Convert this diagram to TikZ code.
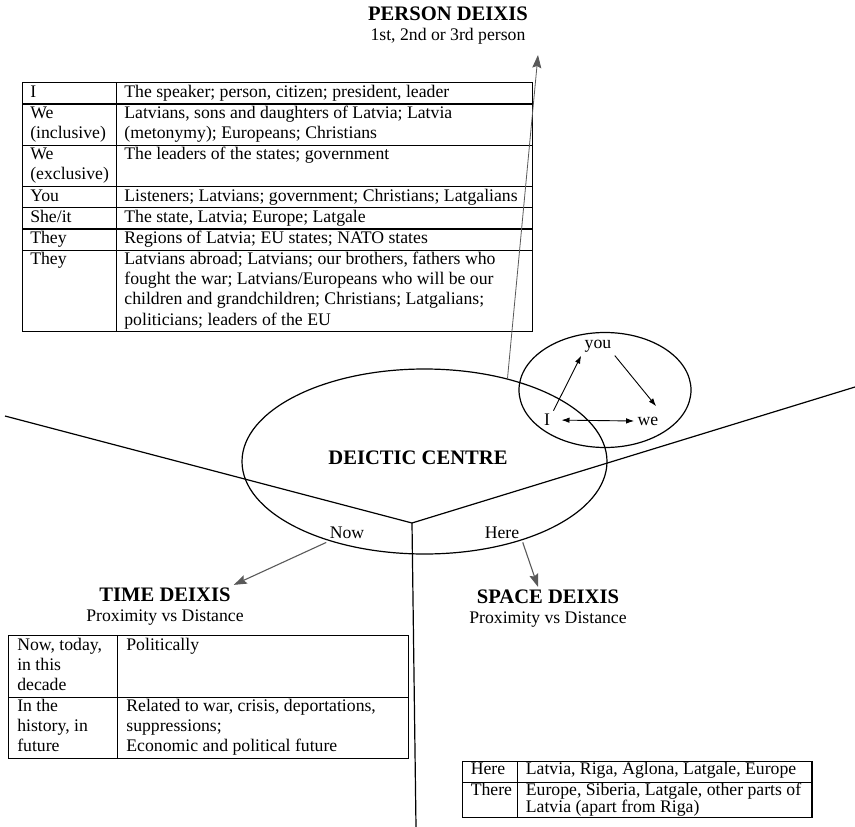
\documentclass[tikz,border=0pt]{standalone}
\usepackage{fontspec}
\setmainfont{Liberation Serif}
\usepackage{array}
\usetikzlibrary{arrows.meta, positioning, shapes.geometric}
\newcolumntype{L}[1]{>{\raggedright\arraybackslash}p{#1}}
\setlength{\arrayrulewidth}{1.1pt}

\begin{document}
\begin{tikzpicture}[x=1pt, y=-1pt, on grid, node distance=22.5pt,
      font=\fontsize{17.7}{20.1}\selectfont,
      title/.style={font=\fontsize{20.6}{24}\selectfont\bfseries, inner sep=3pt},
      circ/.style={draw, ellipse, line width=1.2pt, inner sep=0pt},
      ray/.style={line width=1.2pt},
      pointer/.style={draw=black!65, line width=1.1pt, -{Stealth[length=13pt, width=9pt, inset=2pt]}},
      pers/.style={line width=0.9pt, -{Latex[length=8pt, width=5.5pt]}},
      grid table/.style={inner sep=0pt, anchor=north west}]
  \useasboundingbox (0,0) rectangle (855,827);

  % person deixis
  \node[title] (persontitle) at (448,14) {PERSON DEIXIS};
  \node (personsub) [below=of persontitle] {1st, 2nd or 3rd person};
  \node[grid table] (persontab) at (22,82) {%
    \setlength{\tabcolsep}{7pt}%
    \begin{tabular}{|L{79pt}|L{401pt}|}
      \hline
      I & The speaker; person, citizen; president, leader \\ \hline
      We\newline (inclusive) & Latvians, sons and daughters of Latvia; Latvia\newline (metonymy); Europeans; Christians \\ \hline
      We\newline (exclusive) & The leaders of the states; government \\ \hline
      You & Listeners; Latvians; government; Christians; Latgalians \\ \hline
      She/it & The state, Latvia; Europe; Latgale \\ \hline
      They & Regions of Latvia; EU states; NATO states \\ \hline
      They & Latvians abroad; Latvians; our brothers, fathers who\newline fought the war; Latvians/Europeans who will be our\newline children and grandchildren; Christians; Latgalians;\newline politicians; leaders of the EU \\ \hline
    \end{tabular}};

  % deictic centre
  \node[circ, minimum width=365pt, minimum height=185pt] (centre) at (424.5,461.5) {};
  \node[title] (centrelabel) at (418,458) {DEICTIC CENTRE};
  \node[circ, minimum width=172pt, minimum height=115pt] (persons) at (605,390) {};
  \node (you) at (598,346) {you};
  \node (I) at (547,420) {I};
  \node (we) at (648,421) {we};
  \node (now) at (347,533) {Now};
  \node (here) at (502,533) {Here};

  \coordinate (hub) at (412,523);
  \coordinate (westend) at (5,416);
  \coordinate (eastend) at (855,387);
  \coordinate (southend) at (416,827);
  \draw[ray] (westend) -- (hub) -- (eastend);
  \draw[ray] (hub) -- (southend);

  % time deixis
  \node[title] (timetitle) at (165,595) {TIME DEIXIS};
  \node (timesub) [below=of timetitle] {Proximity vs Distance};
  \node[grid table] (timetab) at (8,635) {%
    \setlength{\tabcolsep}{8pt}%
    \begin{tabular}{|L{92pt}|L{274pt}|}
      \hline
      Now, today,\newline in this\newline decade & Politically \\ \hline
      In the\newline history, in\newline future & Related to war, crisis, deportations,\newline suppressions;\newline Economic and political future \\ \hline
    \end{tabular}};

  % space deixis
  \node[title] (spacetitle) at (548,597) {SPACE DEIXIS};
  \node (spacesub) [below=of spacetitle] {Proximity vs Distance};
  \node[grid table] (spacetab) at (462,761) {%
    \fontsize{17.7}{16.1}\selectfont\setlength{\tabcolsep}{7.5pt}%
    \begin{tabular}{|L{39pt}|L{278pt}|}
      \hline
      Here & Latvia, Riga, Aglona, Latgale, Europe \\[2.1pt] \hline
      There & Europe, Siberia, Latgale, other parts of\newline Latvia (apart from Riga) \\ \hline
    \end{tabular}};

  \coordinate (persontip) at (538,55);
  \draw[pointer, line width=0.8pt] (centre.45) -- (persontip);
  \draw[pointer] (now.south west) -- (timetitle.north east);
  \draw[pointer] (here.south east) -- ([xshift=-10pt]spacetitle.north);
  \draw[pers] (I.north east) -- (you.south west);
  \draw[pers, shorten >=9pt] (you.south east) -- (we.north east);
  \draw[pers, {Latex[length=8pt, width=5.5pt]}-{Latex[length=8pt, width=5.5pt]}, shorten <=8pt] (I.east) -- (we.west);
\end{tikzpicture}
\end{document}
